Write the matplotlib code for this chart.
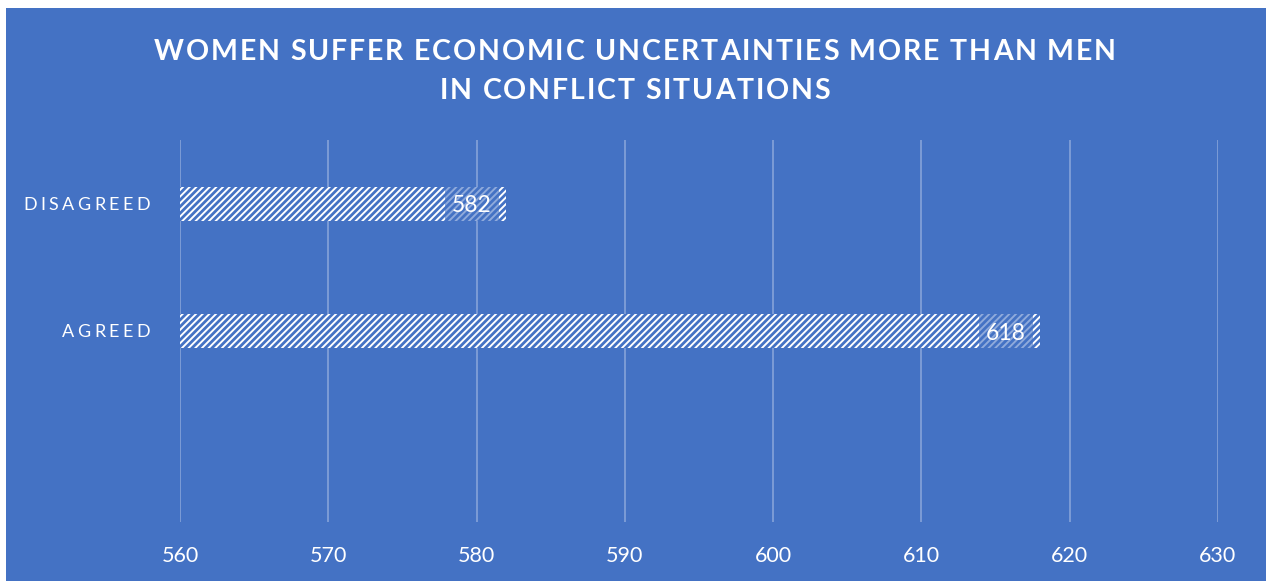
import matplotlib
matplotlib.use("Agg")
import matplotlib.pyplot as plt
from matplotlib.patches import Rectangle
from matplotlib.font_manager import FontProperties, findfont, get_font

# ---- data ----
categories = ["DISAGREED", "AGREED"]
values = [582, 618]
xticks = [560, 570, 580, 590, 600, 610, 620, 630]
title_lines = ["WOMEN SUFFER ECONOMIC UNCERTAINTIES MORE THAN MEN", "IN CONFLICT SITUATIONS"]

# ---- style ----
W, H, DPI = 1266, 581, 100
BLUE = "#4472C4"
FONT = "Lato"
plt.rcParams["font.family"] = [FONT, "DejaVu Sans"]
plt.rcParams["hatch.linewidth"] = 2.0

fig = plt.figure(figsize=(W / DPI, H / DPI), dpi=DPI, facecolor="white")
fig.patches.append(Rectangle((6 / W, 0), (W - 6) / W, (H - 8) / H,
                             transform=fig.transFigure, facecolor=BLUE,
                             edgecolor="none", zorder=-10))

ax = fig.add_axes([180 / W, (H - 522) / H, (1218 - 180) / W, (522 - 140) / H])
ax.set_zorder(5)
ax.set_facecolor("none")
ax.set_xlim(560, 630)
ax.set_ylim(2.5, -0.5)
for s in ax.spines.values():
    s.set_visible(False)
ax.set_xticks(xticks)
ax.set_xticklabels([str(t) for t in xticks], color="white", fontsize=15.5, family=FONT)
ax.tick_params(axis="x", length=0, pad=17)
ax.set_yticks([])
ax.grid(axis="x", color="white", alpha=0.35, linewidth=1.2)
ax.set_axisbelow(True)

ypos = list(range(len(categories)))
bar_h = 0.267
ax.barh(ypos, [v - 560 for v in values], left=560, height=bar_h,
        color="white", edgecolor=BLUE, hatch="/////", linewidth=0, zorder=3)

# data labels with translucent box near bar end
box_w, box_gap = 3.6, 0.5
for y, v in zip(ypos, values):
    x1 = v - box_gap
    ax.add_patch(Rectangle((x1 - box_w, y - bar_h / 2), box_w, bar_h,
                           facecolor=BLUE, alpha=0.6, edgecolor="none", zorder=4))
    ax.text(x1 - box_w / 2, y, str(v), ha="center", va="center_baseline",
            color="white", fontsize=16.5, family=FONT, zorder=5)


def advances(s, fp):
    font = get_font(findfont(fp))
    font.set_size(fp.get_size_in_points(), DPI)
    out = []
    for c in s:
        g = font.load_char(ord(c))
        out.append(g.linearHoriAdvance / 65536)
    return out


def spaced_text(s, x_px, y_base_px, fp, spacing, ha="center"):
    adv = advances(s, fp)
    total = sum(adv) + spacing * (len(s) - 1)
    if ha == "center":
        x = x_px - total / 2
    elif ha == "right":
        x = x_px - total
    else:
        x = x_px
    for c, a in zip(s, adv):
        if c != " ":
            fig.text(x / W, y_base_px / H, c, fontproperties=fp, color="white",
                     ha="left", va="baseline", zorder=10)
        x += a + spacing


# title
tfp = FontProperties(family=FONT, weight="bold", size=20.5)
adv1 = advances(title_lines[0], tfp)
t_spacing = (962 - sum(adv1)) / (len(title_lines[0]) - 1)
spaced_text(title_lines[0], 635, H - 60, tfp, t_spacing)
spaced_text(title_lines[1], 635, H - 99, tfp, t_spacing)

# category labels
cfp = FontProperties(family=FONT, weight="normal", size=13)
advc = advances(categories[0], cfp)
c_spacing = (127 - sum(advc)) / (len(categories[0]) - 1)
cap = 0.7165 * 13 * DPI / 72
for y, c in zip(ypos, categories):
    yc = ax.transData.transform((560, y))[1]
    spaced_text(c, 150, yc - cap / 2, cfp, c_spacing, ha="right")

fig.savefig("out.png", dpi=DPI, facecolor="white")
